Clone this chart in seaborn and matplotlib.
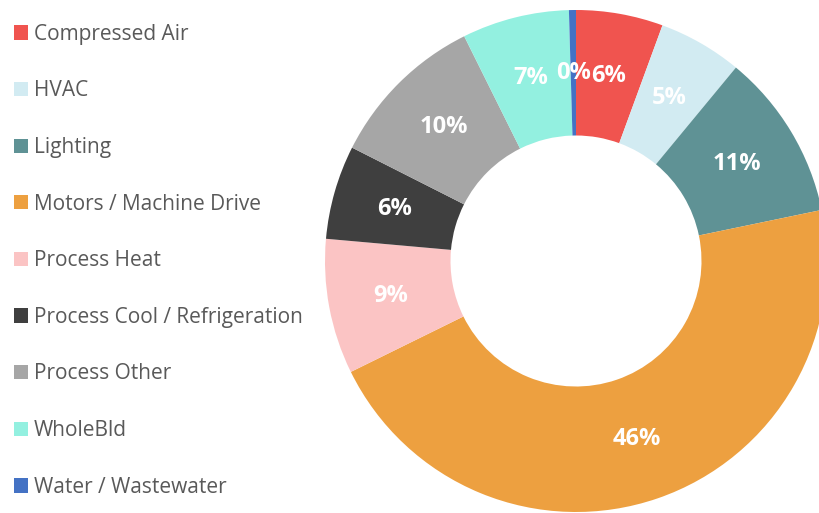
import matplotlib
matplotlib.use("Agg")
import matplotlib.pyplot as plt
from matplotlib.patches import Patch
import seaborn as sns

categories = ["Compressed Air", "HVAC", "Lighting", "Motors / Machine Drive",
              "Process Heat", "Process Cool / Refrigeration", "Process Other",
              "WholeBld", "Water / Wastewater"]
shares = [5.6, 5.4, 10.75, 46.0, 8.7, 6.05, 10.2, 6.9, 0.45]
colors = ["#F0544F", "#D2EBF2", "#5F9295", "#EDA040", "#FBC4C4",
          "#3F3F3F", "#A6A6A6", "#93F0E0", "#4472C4"]

sns.set_theme(style="white")
plt.rcParams["font.family"] = ["Open Sans", "DejaVu Sans"]
palette = sns.color_palette(colors)

fig = plt.figure(figsize=(8.19, 5.13), dpi=100)
ax = fig.add_axes([325 / 819, 1 / 513, 502 / 819, 502 / 513])
wedges, texts, autotexts = ax.pie(
    shares, colors=palette, startangle=90, counterclock=False,
    radius=1, autopct="%.0f%%", pctdistance=0.75,
    wedgeprops=dict(width=0.5, linewidth=0),
    textprops=dict(color="white", fontsize=17, fontweight="bold"))
ax.set_xlim(-1, 1)
ax.set_ylim(-1, 1)
ax.set_aspect("equal")
ax.axis("off")

handles = [Patch(facecolor=c, edgecolor="none") for c in palette]
fig.legend(handles, categories, loc="upper left", bbox_to_anchor=(0.007, 0.970),
           frameon=False, fontsize=15, labelcolor="#595959",
           handlelength=0.67, handleheight=0.67, handletextpad=0.29,
           labelspacing=1.71, borderaxespad=0)

fig.savefig("out.png", dpi=100)
